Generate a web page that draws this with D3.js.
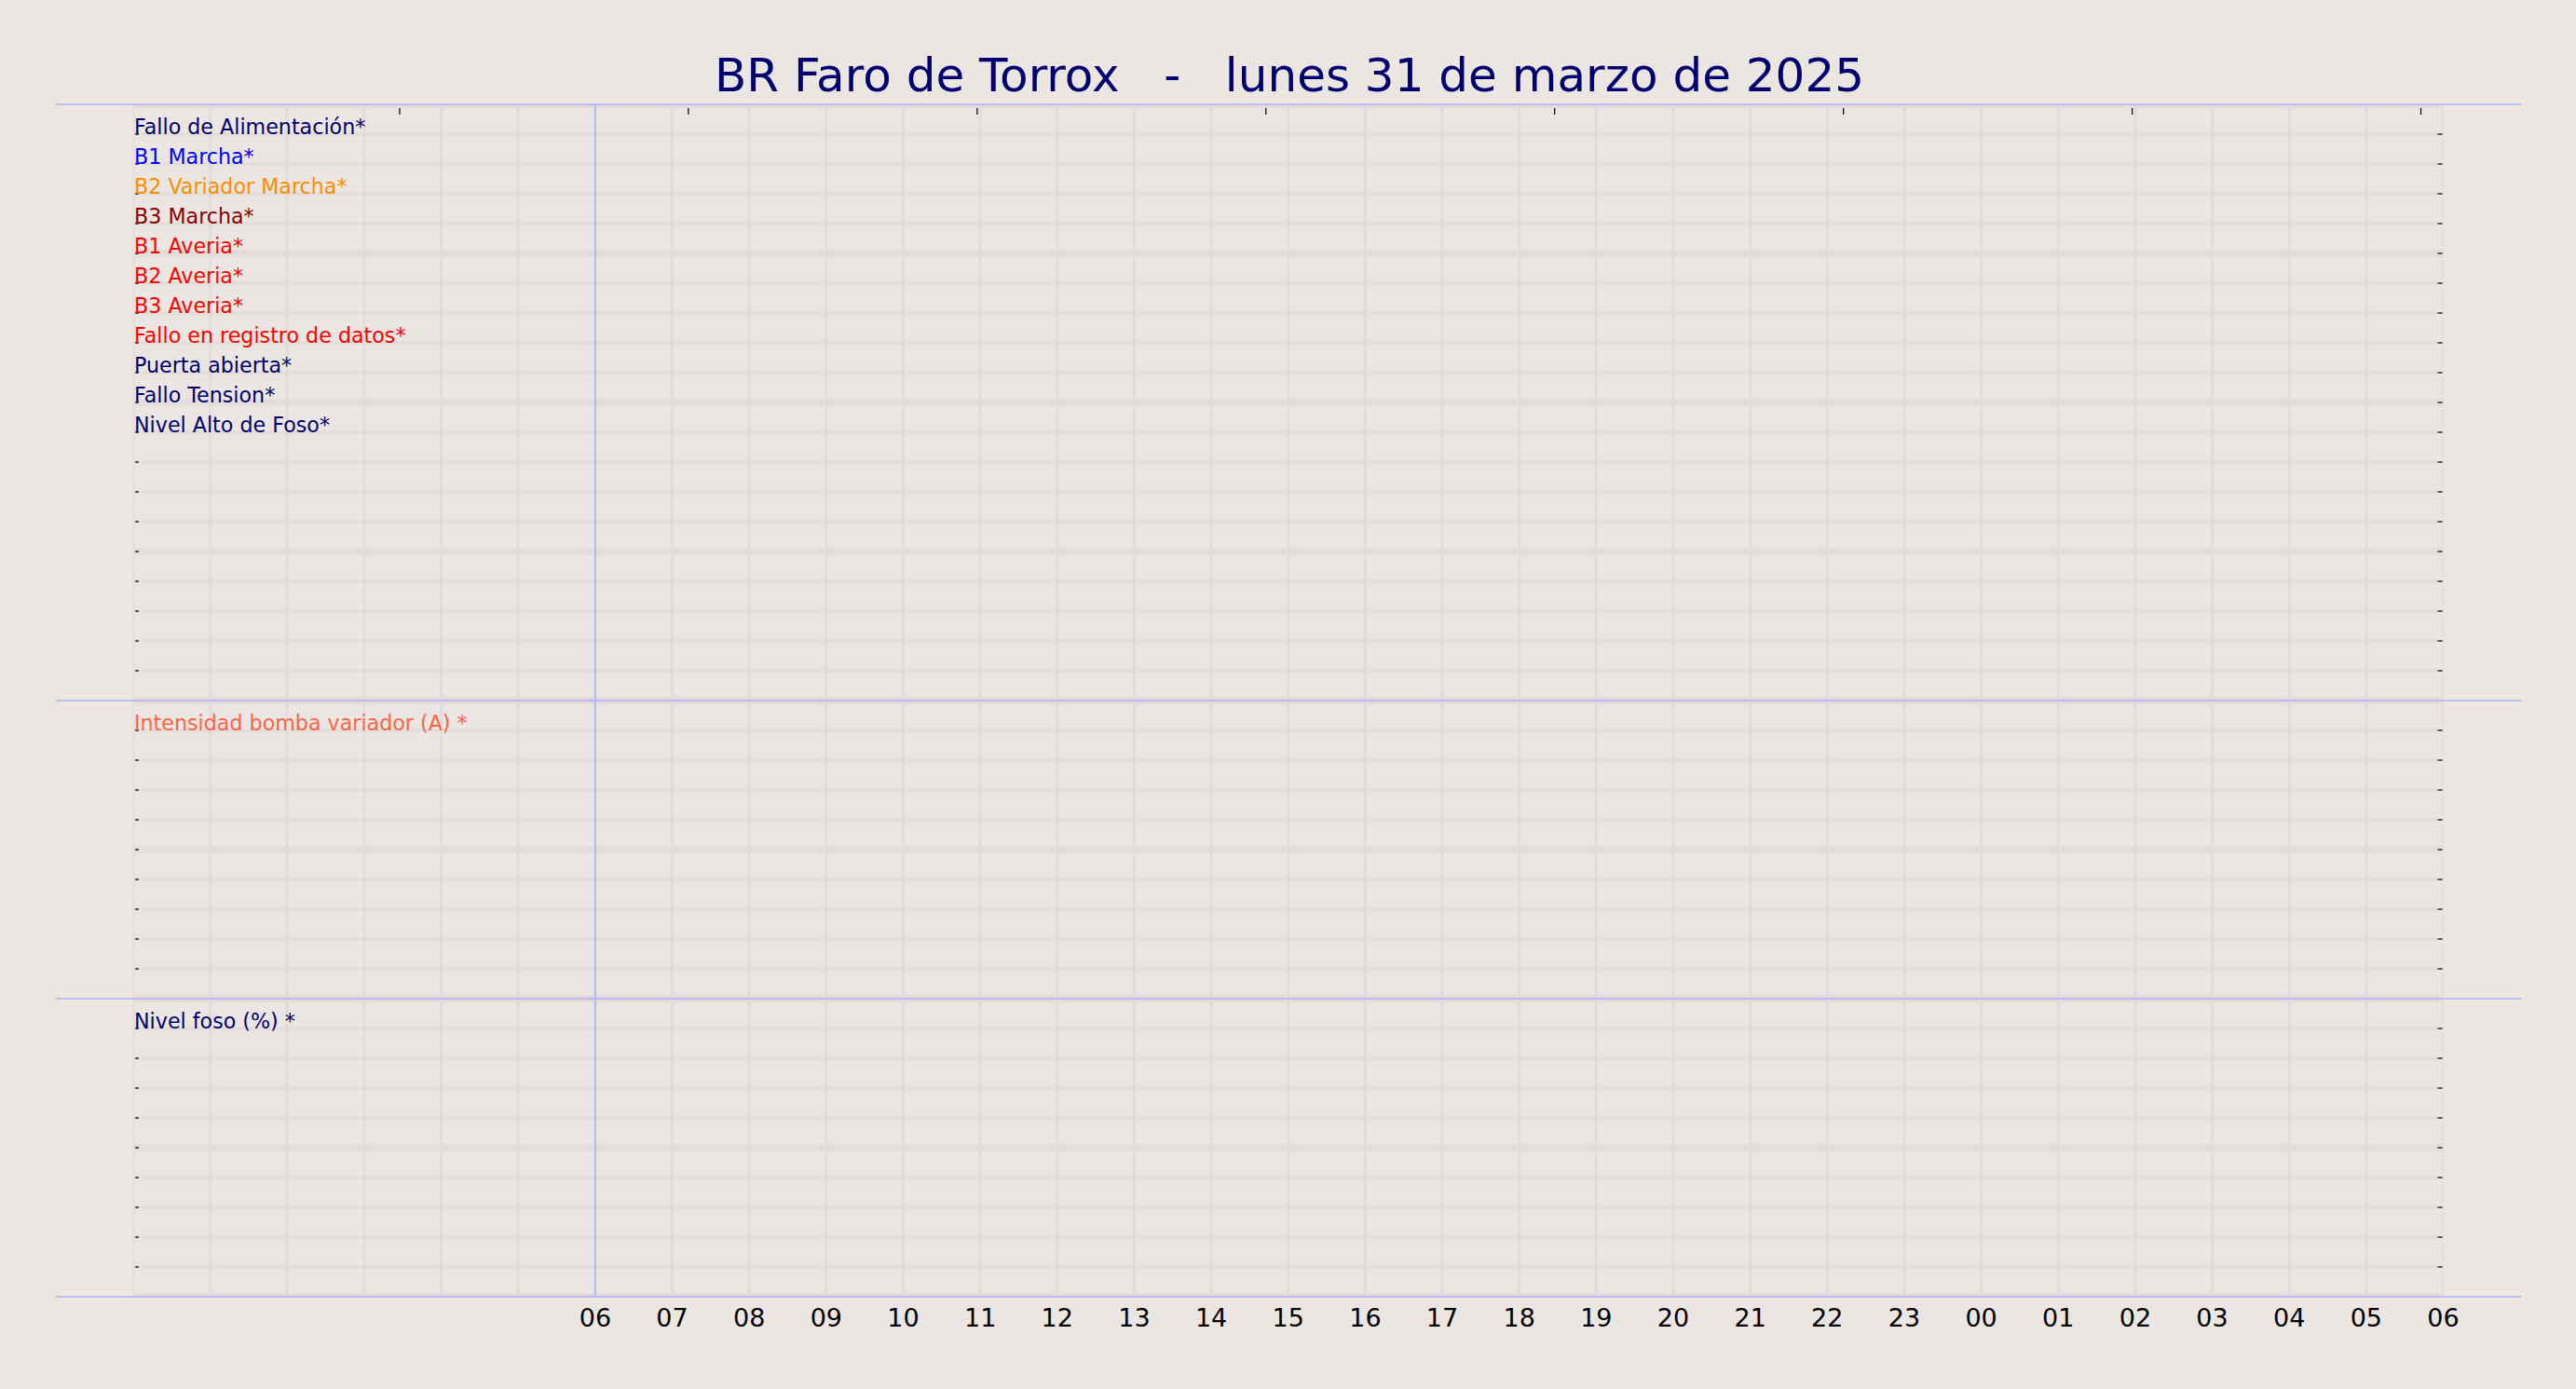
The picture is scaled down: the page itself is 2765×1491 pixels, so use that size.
<!DOCTYPE html>
<html>
    <head>
        <style>
            body { margin: 0; background: #ebe6e1; }
            svg { display: block; font-family: "DejaVu Sans", sans-serif; }
        </style>
    </head>
    <body>
        <svg></svg>

        <script src="https://d3js.org/d3.v7.min.js"></script>

        <script>
            const title = "BR Faro de Torrox   -   lunes 31 de marzo de 2025";

            // digital signals (top panel)
            const signalLabels = ["Fallo de Alimentación*", "B1 Marcha*", "B2 Variador Marcha*", "B3 Marcha*",
                                  "B1 Averia*", "B2 Averia*", "B3 Averia*", "Fallo en registro de datos*",
                                  "Puerta abierta*", "Fallo Tension*", "Nivel Alto de Foso*"];
            const signalColors = ["#000070", "#0000ff", "#ff8c00", "#8b0000",
                                  "#ff0000", "#ff0000", "#ff0000", "#ff0000",
                                  "#000070", "#000070", "#000070"];

            // analog panels
            const analogLabels = ["Intensidad bomba variador (A) *", "Nivel foso (%) *"];
            const analogColors = ["#ff6347", "#000070"];

            // hours from 00:00 on the 31st, labels only for the day 06 -> 06
            const labelHours = d3.range(6, 31);
            const topTickHours = [3.46, 7.21, 10.96, 14.71, 18.46, 22.21, 25.96, 29.71];

            const width = 2765,
                height = 1491;

            const rowH = 32;
            const panels = [
                { top: 112, rows: 20, labels: signalLabels, colors: signalColors },
                { top: 752, rows: 10, labels: [analogLabels[0]], colors: [analogColors[0]] },
                { top: 1072, rows: 10, labels: [analogLabels[1]], colors: [analogColors[1]] }
            ];
            const plotTop = 112, plotBottom = 1392;

            const x = d3.scaleLinear()
                        .domain([0, 30])
                        .range([143, 2622.5]);

            const svg = d3.select("svg")
                        .attr("width", width)
                        .attr("height", height);

            svg.append("rect")
                .attr("width", width)
                .attr("height", height)
                .attr("fill", "#ebe6e1");

            // title
            svg.append("text")
                .attr("x", 1384)
                .attr("y", 98)
                .attr("text-anchor", "middle")
                .attr("font-size", 50)
                .attr("fill", "#000070")
                .style("white-space", "pre")
                .attr("xml:space", "preserve")
                .text(title);

            panels.forEach(function(p, pi) {
                const y = d3.scaleLinear()
                            .domain([0, p.rows])
                            .range([p.top, p.top + p.rows * rowH]);

                const clipId = "clip" + pi;
                svg.append("clipPath").attr("id", clipId)
                    .append("rect")
                    .attr("x", x(0))
                    .attr("y", y(0))
                    .attr("width", x(30) - x(0))
                    .attr("height", y(p.rows) - y(0));

                const g = svg.append("g").attr("clip-path", "url(#" + clipId + ")");

                // horizontal grid: thin every row, thick every 5
                g.selectAll(".hgrid")
                    .data(d3.range(0, p.rows + 1))
                    .enter()
                    .append("line")
                    .attr("x1", x(0))
                    .attr("x2", x(30))
                    .attr("y1", function(d) { return y(d); })
                    .attr("y2", function(d) { return y(d); })
                    .attr("stroke", "#e1dcda")
                    .attr("stroke-width", function(d) { return d % 5 === 0 ? 7 : 3; });

                // vertical grid every hour
                g.selectAll(".vgrid")
                    .data(d3.range(0, 31))
                    .enter()
                    .append("line")
                    .attr("x1", function(d) { return x(d); })
                    .attr("x2", function(d) { return x(d); })
                    .attr("y1", y(0))
                    .attr("y2", y(p.rows))
                    .attr("stroke", "#e1dcda")
                    .attr("stroke-width", 3);

                // inner ticks left and right
                const ticks = d3.range(1, p.rows);
                svg.append("g").selectAll("line")
                    .data(ticks)
                    .enter()
                    .append("line")
                    .attr("x1", x(0) + 2)
                    .attr("x2", x(0) + 6)
                    .attr("y1", function(d) { return y(d); })
                    .attr("y2", function(d) { return y(d); })
                    .attr("stroke", "#111")
                    .attr("stroke-width", 1.3);

                svg.append("g").selectAll("line")
                    .data(ticks)
                    .enter()
                    .append("line")
                    .attr("x1", x(30) - 6)
                    .attr("x2", x(30) - 1)
                    .attr("y1", function(d) { return y(d); })
                    .attr("y2", function(d) { return y(d); })
                    .attr("stroke", "#111")
                    .attr("stroke-width", 1.3);

                // signal names sit on their row
                svg.append("g").selectAll("text")
                    .data(p.labels)
                    .enter()
                    .append("text")
                    .attr("x", x(0) + 1)
                    .attr("y", function(d, i) { return y(i + 1) - 0.5; })
                    .attr("font-size", 22.2)
                    .attr("fill", function(d, i) { return p.colors[i]; })
                    .text(function(d) { return d; });
            });

            // top ticks
            svg.append("g").selectAll("line")
                .data(topTickHours)
                .enter()
                .append("line")
                .attr("x1", function(d) { return x(d); })
                .attr("x2", function(d) { return x(d); })
                .attr("y1", plotTop + 4)
                .attr("y2", plotTop + 11)
                .attr("stroke", "#111")
                .attr("stroke-width", 1.3);

            // start of day marker
            svg.append("line")
                .attr("x1", x(6))
                .attr("x2", x(6))
                .attr("y1", plotTop)
                .attr("y2", plotBottom)
                .attr("stroke", "#aab0ff")
                .attr("stroke-width", 1.6);

            // panel separators
            svg.append("g").selectAll("line")
                .data([112, 752, 1072, 1392])
                .enter()
                .append("line")
                .attr("x1", 60)
                .attr("x2", 2706)
                .attr("y1", function(d) { return d; })
                .attr("y2", function(d) { return d; })
                .attr("stroke", "#aab0ff")
                .attr("stroke-width", 1.6);

            // hour labels
            svg.append("g").selectAll("text")
                .data(labelHours)
                .enter()
                .append("text")
                .attr("x", function(d) { return x(d); })
                .attr("y", 1424)
                .attr("text-anchor", "middle")
                .attr("font-size", 27)
                .attr("fill", "#000")
                .text(function(d) { return String(d % 24).padStart(2, "0"); });

        </script>
    </body>
</html>
